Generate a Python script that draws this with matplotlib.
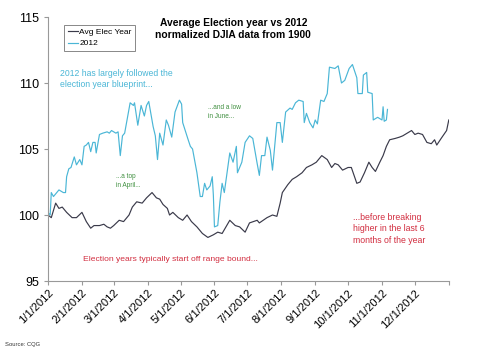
import numpy as np
import pandas as pd
import matplotlib
matplotlib.use('Agg')
import matplotlib.pyplot as plt

plt.rcParams['font.family'] = ['Liberation Sans', 'DejaVu Sans']

# day offsets from 1/1/2012 and normalized values
avg_day = [0, 3, 7, 10, 13, 17, 22, 26, 31, 35,
           39, 42, 47, 51, 54, 57, 60, 65, 69, 74,
           77, 81, 86, 90, 95, 99, 102, 105, 109, 111,
           114, 119, 123, 127, 131, 136, 141, 146, 151, 155,
           159, 166, 171, 175, 180, 184, 191, 193, 200, 205,
           209, 212, 214, 219, 223, 227, 232, 236, 241, 245,
           250, 255, 259, 262, 265, 269, 274, 277, 282, 285,
           289, 293, 296, 299, 303, 306, 309, 312, 317, 321,
           324, 328, 332, 335, 338, 342, 346, 350, 353, 355,
           359, 364, 366]
avg_val = [100.0, 99.8, 100.9, 100.5, 100.6, 100.2, 99.8, 99.8, 100.2, 99.5,
           99.0, 99.2, 99.2, 99.3, 99.1, 99.0, 99.2, 99.6, 99.5, 100.0,
           100.6, 101.0, 100.9, 101.3, 101.7, 101.3, 101.2, 100.8, 100.5, 100.0,
           100.2, 99.8, 99.6, 100.0, 99.5, 99.1, 98.6, 98.3, 98.5, 98.7,
           98.6, 99.6, 99.2, 99.1, 98.7, 99.4, 99.6, 99.4, 99.8, 100.0,
           99.9, 100.9, 101.7, 102.3, 102.7, 102.9, 103.2, 103.6, 103.8, 104.0,
           104.5, 104.2, 103.6, 103.9, 103.8, 103.4, 103.6, 103.6, 102.4, 102.5,
           103.2, 104.0, 103.6, 103.3, 104.0, 104.5, 105.2, 105.7, 105.8, 105.9,
           106.0, 106.2, 106.4, 106.1, 106.2, 106.1, 105.5, 105.4, 105.7, 105.3,
           105.8, 106.4, 107.2]

y12_day = [1, 2, 3, 5, 7, 10, 14, 16, 17, 19,
           21, 24, 26, 29, 31, 33, 35, 37, 39, 41,
           43, 44, 47, 50, 54, 56, 58, 62, 64, 66,
           68, 70, 75, 78, 79, 82, 85, 88, 90, 92,
           96, 98, 100, 102, 105, 108, 110, 113, 116, 120,
           122, 123, 128, 130, 132, 136, 139, 141, 143, 145,
           148, 150, 151, 152, 155, 157, 159, 161, 163, 166,
           169, 172, 173, 177, 180, 184, 187, 191, 193, 195,
           198, 200, 203, 205, 209, 212, 214, 217, 221, 223,
           226, 229, 233, 234, 236, 239, 242, 244, 246, 249,
           252, 255, 257, 262, 265, 268, 271, 275, 278, 282,
           283, 287, 288, 291, 292, 296, 297, 301, 305, 306,
           307, 309, 310]
y12_val = [100.1, 100.0, 101.7, 101.4, 101.6, 101.9, 101.7, 101.7, 102.9, 103.5,
           103.6, 104.4, 103.8, 104.2, 103.8, 105.2, 105.3, 105.5, 104.8, 105.5,
           105.5, 104.7, 106.1, 106.2, 106.3, 106.2, 106.4, 106.2, 106.3, 104.5,
           106.0, 106.2, 108.5, 108.3, 108.5, 106.8, 108.3, 107.5, 108.3, 108.6,
           106.7, 106.0, 104.2, 106.2, 105.3, 107.2, 106.8, 105.9, 107.8, 108.7,
           108.4, 107.0, 105.7, 105.2, 105.0, 103.2, 101.4, 101.4, 102.4, 101.9,
           102.2, 102.9, 101.5, 99.1, 99.2, 101.0, 102.4, 101.7, 102.9, 104.7,
           104.0, 105.2, 103.2, 104.0, 105.5, 106.0, 105.8, 103.9, 103.0, 104.5,
           104.5, 105.9, 104.9, 103.4, 107.0, 107.0, 105.5, 107.8, 108.1, 108.0,
           108.5, 108.7, 108.6, 107.0, 107.7, 107.0, 106.6, 107.2, 106.9, 108.7,
           108.6, 109.2, 111.2, 111.1, 111.3, 110.0, 110.2, 111.1, 111.4, 110.4,
           109.2, 109.2, 110.6, 110.8, 109.3, 109.2, 107.2, 107.4, 107.2, 108.2,
           107.1, 107.2, 108.0]

start = pd.Timestamp('2012-01-01')
avg_dates = start + pd.to_timedelta(avg_day, unit='D')
y12_dates = start + pd.to_timedelta(y12_day, unit='D')

cyan = '#4AB6D6'
dark = '#3A3A4A'
green = '#3F8F3F'
red = '#D22E40'

fig = plt.figure(figsize=(4.8, 3.52), dpi=100)
ax = fig.add_axes([0.1, 0.2017, 0.835, 0.75])

ax.plot(avg_dates, avg_val, color=dark, lw=0.85, label='Avg Elec Year')
ax.plot(y12_dates, y12_val, color=cyan, lw=0.85, label='2012')

ax.set_ylim(95, 115)
ax.set_yticks([95, 100, 105, 110, 115])
ax.set_xlim(pd.Timestamp('2012-01-01'), pd.Timestamp('2013-01-01'))
month_ticks = pd.date_range('2012-01-01', '2013-01-01', freq='MS')
ax.set_xticks(month_ticks)
ax.set_xticklabels([f'{d.month}/{d.day}/{d.year}' for d in month_ticks[:-1]] + [''],
                   rotation=45, ha='right', rotation_mode='anchor', fontsize=8)
ax.tick_params(axis='y', labelsize=9, length=3, color='#999999')
ax.tick_params(axis='x', length=3, color='#999999', pad=2)

for side in ['top', 'right']:
    ax.spines[side].set_visible(False)
for side in ['left', 'bottom']:
    ax.spines[side].set_color('#999999')

leg = ax.legend(loc='upper left', bbox_to_anchor=(0.03, 0.985), fontsize=6,
                handlelength=1.2, handletextpad=0.2, borderpad=0.4,
                labelspacing=0.4, fancybox=False, framealpha=1)
leg.get_frame().set_edgecolor('#888888')
leg.get_frame().set_linewidth(0.7)

fig.text(0.486, 0.919, 'Average Election year vs 2012\nnormalized DJIA data from 1900',
         ha='center', va='center', fontsize=7.4, fontweight='bold', linespacing=1.25)

ax.text(0.03, 0.765, '2012 has largely followed the\nelection year blueprint...',
        transform=ax.transAxes, color=cyan, fontsize=6.2, va='center', linespacing=1.25)
ax.text(0.17, 0.38, '...a top\nin April...', transform=ax.transAxes, color=green,
        fontsize=4.7, va='center', linespacing=1.4)
ax.text(0.40, 0.64, '...and a low\nin June...', transform=ax.transAxes, color=green,
        fontsize=4.7, va='center', linespacing=1.4)
ax.text(0.087, 0.08, 'Election years typically start off range bound...',
        transform=ax.transAxes, color=red, fontsize=6.1, va='center')
ax.text(0.76, 0.197, '...before breaking\nhigher in the last 6\nmonths of the year',
        transform=ax.transAxes, color=red, fontsize=6.3, va='center', linespacing=1.35)

fig.text(0.01, 0.02, 'Source: CQG', fontsize=4.2, color='#333333', va='center')

fig.savefig('out.png', dpi=100)
